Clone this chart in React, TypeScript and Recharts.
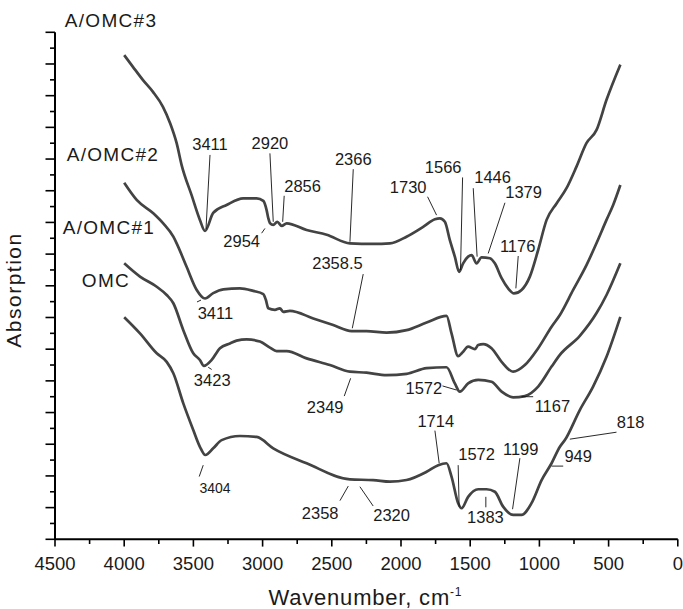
import React from 'react';
import { LineChart, Line, XAxis, YAxis, ReferenceLine, ReferenceDot } from 'recharts';

const FONT = "'Liberation Sans', Arial, Helvetica, sans-serif";
const INK = '#1a1a1a';
const CURVE = '#434343';

type Pt = [number, number];

// [wavenumber cm-1, absorption (stacked offset units)]
const AOMC3: Pt[] = [
  [4000, 15.28], [3937, 14.91], [3864, 14.49], [3792, 14.12], [3720, 13.65], [3669, 13.14],
  [3621, 12.5], [3585, 11.81], [3513, 10.86], [3453, 10.08], [3416, 9.73], [3357, 10.3],
  [3260, 10.55], [3140, 10.76], [3043, 10.76], [2995, 10.68], [2971, 10.39], [2959, 10.14],
  [2947, 9.98], [2923, 9.92], [2894, 10.02], [2862, 9.89], [2826, 9.97], [2682, 9.76],
  [2537, 9.61], [2369, 9.34], [2201, 9.32], [2080, 9.34], [1960, 9.55], [1840, 9.86],
  [1755, 10.1], [1719, 10.13], [1683, 10.02], [1647, 9.44], [1611, 8.92], [1580, 8.44],
  [1551, 8.71], [1515, 8.92], [1490, 8.97], [1454, 8.71], [1418, 8.9], [1358, 8.87],
  [1322, 8.71], [1273, 8.24], [1226, 7.92], [1184, 7.76], [1129, 7.87], [1069, 8.29],
  [1009, 9.13], [948, 10.08], [876, 10.6], [804, 11.08], [732, 11.76], [660, 12.5],
  [587, 12.92], [515, 13.87], [415, 14.98],
];

const AOMC2: Pt[] = [
  [4000, 11.25], [3910, 10.71], [3790, 10.29], [3718, 9.97], [3645, 9.55], [3621, 9.34],
  [3549, 8.6], [3476, 7.87], [3416, 7.6], [3357, 7.77], [3284, 7.89], [3164, 7.92],
  [3068, 7.84], [2995, 7.74], [2976, 7.55], [2959, 7.29], [2911, 7.24], [2875, 7.29],
  [2851, 7.18], [2803, 7.21], [2634, 6.97], [2490, 6.76], [2357, 6.57], [2249, 6.57],
  [2104, 6.52], [1960, 6.6], [1815, 6.84], [1671, 7.05], [1635, 6.5], [1587, 5.78],
  [1551, 5.92], [1515, 6.08], [1466, 6.0], [1442, 6.13], [1406, 6.16], [1346, 6.03],
  [1273, 5.6], [1190, 5.29], [1105, 5.5], [1009, 6.03], [912, 6.71], [852, 7.08],
  [756, 7.87], [659, 8.66], [587, 9.35], [515, 10.08], [467, 10.55], [415, 11.18],
];

const AOMC1: Pt[] = [
  [4000, 8.71], [3886, 8.29], [3765, 7.97], [3693, 7.71], [3645, 7.45], [3573, 6.6],
  [3501, 5.87], [3453, 5.66], [3424, 5.47], [3368, 5.66], [3308, 6.03], [3236, 6.18],
  [3188, 6.27], [3115, 6.31], [3019, 6.24], [2947, 6.05], [2899, 5.94], [2826, 5.94],
  [2682, 5.71], [2514, 5.5], [2369, 5.29], [2249, 5.26], [2104, 5.18], [1960, 5.22],
  [1815, 5.4], [1671, 5.43], [1611, 4.92], [1575, 4.66], [1515, 4.92], [1442, 5.03],
  [1346, 4.97], [1273, 4.66], [1190, 4.48], [1105, 4.52], [1009, 4.82], [912, 5.45],
  [852, 5.82], [708, 6.42], [587, 7.14], [515, 7.71], [415, 8.71],
];

const OMC: Pt[] = [
  [4000, 7.01], [3886, 6.5], [3765, 5.87], [3693, 5.6], [3645, 5.24], [3573, 4.29],
  [3501, 3.45], [3453, 2.92], [3414, 2.66], [3357, 2.87], [3296, 3.13], [3164, 3.26],
  [3043, 3.23], [2923, 2.87], [2682, 2.4], [2369, 1.89], [2201, 1.87], [2080, 1.82],
  [1960, 1.87], [1815, 2.13], [1731, 2.34], [1671, 2.4], [1635, 1.98], [1587, 1.14],
  [1562, 0.98], [1515, 1.34], [1442, 1.58], [1382, 1.58], [1322, 1.5], [1262, 1.03],
  [1190, 0.77], [1129, 0.77], [1057, 1.14], [984, 1.87], [912, 2.4], [852, 2.92],
  [816, 3.13], [708, 4.08], [612, 4.82], [515, 5.76], [415, 7.02],
];

const SERIES = [
  { name: 'A/OMC#3', pts: AOMC3 },
  { name: 'A/OMC#2', pts: AOMC2 },
  { name: 'A/OMC#1', pts: AOMC1 },
  { name: 'OMC', pts: OMC },
];

const CURVE_NAMES = [
  { text: 'A/OMC#3', w: 4095, a: 16.39 },
  { text: 'A/OMC#2', w: 4081, a: 12.16 },
  { text: 'A/OMC#1', w: 4110, a: 9.85 },
  { text: 'OMC', w: 4132, a: 8.18 },
];

// peak label: text centre (w, a) and leader line from -> to
const PEAKS = [
  { text: '3411', w: 3380, a: 12.47, from: [3380, 12.13], to: [3409, 9.79] },
  { text: '2920', w: 2947, a: 12.51, from: [2947, 12.18], to: [2923, 10.02] },
  { text: '2856', w: 2711, a: 11.15, from: [2844, 10.84], to: [2855, 10.02] },
  { text: '2954', w: 3151, a: 9.41, from: [3007, 9.66], to: [2983, 9.81] },
  { text: '2366', w: 2345, a: 12.0, from: [2345, 11.68], to: [2369, 9.39] },
  { text: '1730', w: 1948, a: 11.12, from: [1808, 10.81], to: [1743, 10.23] },
  { text: '1566', w: 1695, a: 11.75, from: [1555, 11.42], to: [1570, 8.5] },
  { text: '1446', w: 1338, a: 11.42, from: [1478, 11.08], to: [1450, 8.92] },
  { text: '1379', w: 1114, a: 10.96, from: [1249, 10.62], to: [1370, 9.02] },
  { text: '1176', w: 1157, a: 9.26, from: [1153, 8.94], to: [1170, 7.92] },
  { text: '3411', w: 3341, a: 7.14, from: [3474, 7.49], to: [3445, 7.55] },
  { text: '2358.5', w: 2459, a: 8.72, from: [2273, 8.37], to: [2352, 6.66] },
  { text: '3423', w: 3364, a: 5.03, from: [3393, 5.43], to: [3368, 5.36] },
  { text: '2349', w: 2548, a: 4.18, from: [2410, 4.52], to: [2364, 5.08] },
  { text: '1572', w: 1835, a: 4.77, from: [1700, 4.84], to: [1598, 4.71] },
  { text: '1167', w: 906, a: 4.21, from: [1129, 4.5], to: [1045, 4.5] },
  { text: '3404', w: 3344, a: 1.63, from: [3458, 1.98], to: [3429, 2.34], small: true },
  { text: '2358', w: 2584, a: 0.83, from: [2441, 1.22], to: [2381, 1.68] },
  { text: '2320', w: 2068, a: 0.75, from: [2201, 1.05], to: [2297, 1.66] },
  { text: '1714', w: 1749, a: 3.73, from: [1755, 3.43], to: [1724, 2.4] },
  { text: '1572', w: 1454, a: 2.68, from: [1587, 2.34], to: [1580, 1.03] },
  { text: '1199', w: 1135, a: 2.85, from: [1141, 2.56], to: [1194, 0.95] },
  { text: '1383', w: 1390, a: 0.69, from: [1387, 1.01], to: [1387, 1.34] },
  { text: '949', w: 720, a: 2.63, from: [912, 2.31], to: [828, 2.31] },
  { text: '818', w: 341, a: 3.7, from: [780, 3.16], to: [443, 3.38] },
];

const X_TICKS = [0, 250, 500, 750, 1000, 1250, 1500, 1750, 2000, 2250, 2500, 2750, 3000, 3250, 3500, 3750, 4000, 4250, 4500];
const Y_TICKS = Array.from({ length: 33 }, (_, i) => i * 0.5);

const renderXTick = (p: any) => {
  const major = p.payload.value % 500 === 0;
  return (
    <g>
      <line x1={p.x} x2={p.x} y1={p.y} y2={p.y + (major ? 7.3 : 4.7)} stroke="#000" strokeWidth={1.6} />
      {major && (
        <text x={p.x} y={p.y + 30.3} textAnchor="middle" fontSize={18.5} fill={INK} fontFamily={FONT}>
          {p.payload.value}
        </text>
      )}
    </g>
  );
};

const renderYTick = (p: any) => {
  const major = Number.isInteger(p.payload.value);
  return <line x1={p.x - (major ? 9.5 : 5)} x2={p.x} y1={p.y} y2={p.y} stroke="#000" strokeWidth={1.6} />;
};

const textShape = (text: string, size: number, spacing = 0) => (p: any) => (
  <text
    x={p.cx}
    y={p.cy}
    dy={size * 0.358}
    textAnchor="middle"
    fontSize={size}
    letterSpacing={spacing}
    fill={INK}
    fontFamily={FONT}
  >
    {text}
  </text>
);

export default function App() {
  return (
    <div style={{ position: 'absolute', left: 0, top: 0 }}>
      <LineChart
        width={683}
        height={609}
        margin={{ top: 32.3, right: 5.2, bottom: 9.7, left: 0 }}
        style={{ fontFamily: FONT, background: '#fff' }}
      >
        <XAxis
          dataKey="w"
          type="number"
          domain={[0, 4500]}
          reversed
          allowDataOverflow
          ticks={X_TICKS}
          interval={0}
          tickSize={0}
          tickMargin={0}
          tickLine={false}
          tick={renderXTick}
          axisLine={{ stroke: '#000', strokeWidth: 2 }}
          height={60}
          label={(p: any) => {
            const vb = p.viewBox;
            return (
              <text x={vb.x + vb.width / 2 - 1} y={vb.y + 65.7} textAnchor="middle" fontSize={22} letterSpacing={0.8} fill={INK} fontFamily={FONT}>
                <tspan>Wavenumber, cm</tspan>
                <tspan dy={-9} fontSize={12}>-1</tspan>
              </text>
            );
          }}
        />
        <YAxis
          type="number"
          domain={[0, 16]}
          allowDataOverflow
          ticks={Y_TICKS}
          interval={0}
          tickSize={0}
          tickMargin={0}
          tickLine={false}
          tick={renderYTick}
          axisLine={{ stroke: '#000', strokeWidth: 2 }}
          width={55}
          label={(p: any) => {
            const vb = p.viewBox;
            const cx = vb.x + 20.6;
            const cy = 290;
            return (
              <text x={cx} y={cy} transform={`rotate(-90, ${cx}, ${cy})`} textAnchor="middle" fontSize={21} letterSpacing={1.5} fill={INK} fontFamily={FONT}>
                Absorption
              </text>
            );
          }}
        />
        {SERIES.map((s) => (
          <Line
            key={s.name}
            name={s.name}
            data={s.pts.map(([w, a]) => ({ w, a }))}
            dataKey="a"
            type="monotone"
            stroke={CURVE}
            strokeWidth={2.7}
            dot={false}
            activeDot={false}
            isAnimationActive={false}
          />
        ))}
        {PEAKS.map((pk, i) => (
          <ReferenceLine
            key={`l${i}`}
            segment={[{ x: pk.from[0], y: pk.from[1] }, { x: pk.to[0], y: pk.to[1] }]}
            stroke="#111"
            strokeWidth={0.9}
            ifOverflow="visible"
          />
        ))}
        {PEAKS.map((pk, i) => (
          <ReferenceDot
            key={`t${i}`}
            x={pk.w}
            y={pk.a}
            r={0}
            ifOverflow="visible"
            shape={textShape(pk.text, pk.small ? 14 : 16.5)}
          />
        ))}
        {CURVE_NAMES.map((c) => (
          <ReferenceDot key={c.text} x={c.w} y={c.a} r={0} ifOverflow="visible" shape={textShape(c.text, 19, 1.3)} />
        ))}
      </LineChart>
    </div>
  );
}
